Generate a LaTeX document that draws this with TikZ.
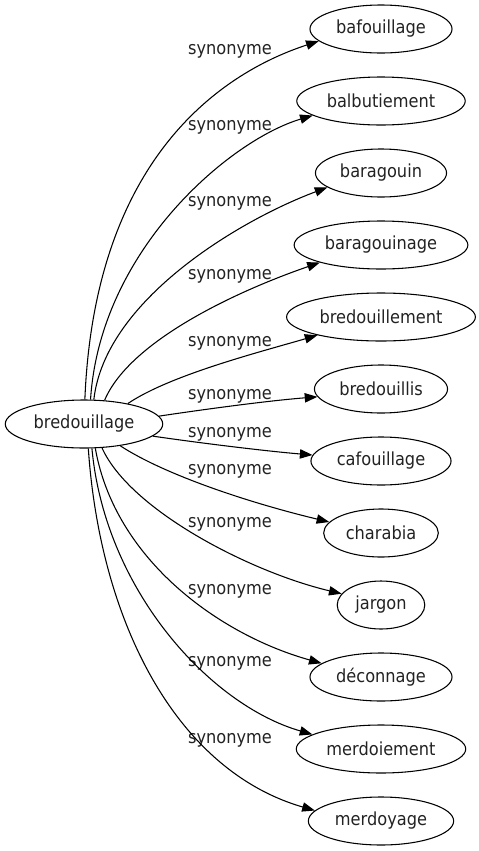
\documentclass[tikz,border=0pt]{standalone}
\usepackage{fontspec}
\setmainfont{DejaVu Sans}[FakeStretch=0.9]
\usetikzlibrary{arrows.meta, positioning, shapes.geometric}
\definecolor{wordborder}{HTML}{000000}
\definecolor{wordtext}{HTML}{222222}
\definecolor{linkcolor}{HTML}{000000}
\tikzset{
    word/.style={
        ellipse, draw=wordborder, line width=0.8pt,
        minimum height=36pt, inner xsep=4pt, inner ysep=4pt,
        text=wordtext, font=\fontsize{13.5}{16}\selectfont
    },
    rel label/.style={
        inner sep=0pt, text=wordtext,
        font=\fontsize{13.5}{16}\selectfont
    },
    arr/.style={-{Triangle[length=9.5pt, width=7pt]}, line width=0.8pt, color=linkcolor}
}
\begin{document}
\begin{tikzpicture}[x=0.75pt, y=-0.75pt, node distance=17.2pt]
    \useasboundingbox (0,0) rectangle (479,851);

    % --- Source word ---
    \node[word] (bredouillage) at (84,424) {bredouillage};

    % --- Synonym column (each one below the last) ---
    \node[word] (bafouillage) at (381,29) {bafouillage};
    \node[word, below=of bafouillage] (balbutiement) {balbutiement};
    \node[word, below=of balbutiement] (baragouin) {baragouin};
    \node[word, below=of baragouin] (baragouinage) {baragouinage};
    \node[word, below=of baragouinage] (bredouillement) {bredouillement};
    \node[word, below=of bredouillement] (bredouillis) {bredouillis};
    \node[word, below=of bredouillis] (cafouillage) {cafouillage};
    \node[word, below=of cafouillage] (charabia) {charabia};
    \node[word, below=of charabia] (jargon) {jargon};
    \node[word, below=of jargon] (deconnage) {déconnage};
    \node[word, below=of deconnage] (merdoiement) {merdoiement};
    \node[word, below=of merdoiement] (merdoyage) {merdoyage};

    % --- Edge labels ---
    \node[rel label] (syn_1) at (230,51) {synonyme};
    \node[rel label] (syn_2) at (230,127) {synonyme};
    \node[rel label] (syn_3) at (230,203) {synonyme};
    \node[rel label] (syn_4) at (230,276) {synonyme};
    \node[rel label] (syn_5) at (230,343) {synonyme};
    \node[rel label] (syn_6) at (230,396) {synonyme};
    \node[rel label] (syn_7) at (230,434) {synonyme};
    \node[rel label] (syn_8) at (230,471) {synonyme};
    \node[rel label] (syn_9) at (230,524) {synonyme};
    \node[rel label] (syn_10) at (230,591) {synonyme};
    \node[rel label] (syn_11) at (230,663) {synonyme};
    \node[rel label] (syn_12) at (230,740) {synonyme};

    % --- Arrows ---
    \draw[arr] (bredouillage.88) .. controls (95,150) and (230,70) .. (bafouillage.191);
    \draw[arr] (bredouillage.75) .. controls (100,250) and (230,140) .. (balbutiement.192);
    \draw[arr] (bredouillage.68) .. controls (105,300) and (240,220) .. (baragouin.195);
    \draw[arr] (bredouillage.49) .. controls (130,340) and (240,290) .. (baragouinage.196);
    \draw[arr] (bredouillage.25) .. controls (170,375) and (260,352) .. (bredouillement.196);
    \draw[arr] (bredouillage.6) .. controls (200,410) and (265,401) .. (bredouillis.187);
    \draw[arr] (bredouillage.-10) .. controls (200,443) and (265,451) .. (cafouillage.175);
    \draw[arr] (bredouillage.-31) .. controls (165,475) and (250,503) .. (charabia.168);
    \draw[arr] (bredouillage.-53) .. controls (130,510) and (250,572) .. (jargon.164);
    \draw[arr] (bredouillage.-65) .. controls (115,560) and (220,635) .. (deconnage.167);
    \draw[arr] (bredouillage.-72) .. controls (105,590) and (210,705) .. (merdoiement.168);
    \draw[arr] (bredouillage.-80) .. controls (100,620) and (175,770) .. (merdoyage.171);

\end{tikzpicture}
\end{document}
